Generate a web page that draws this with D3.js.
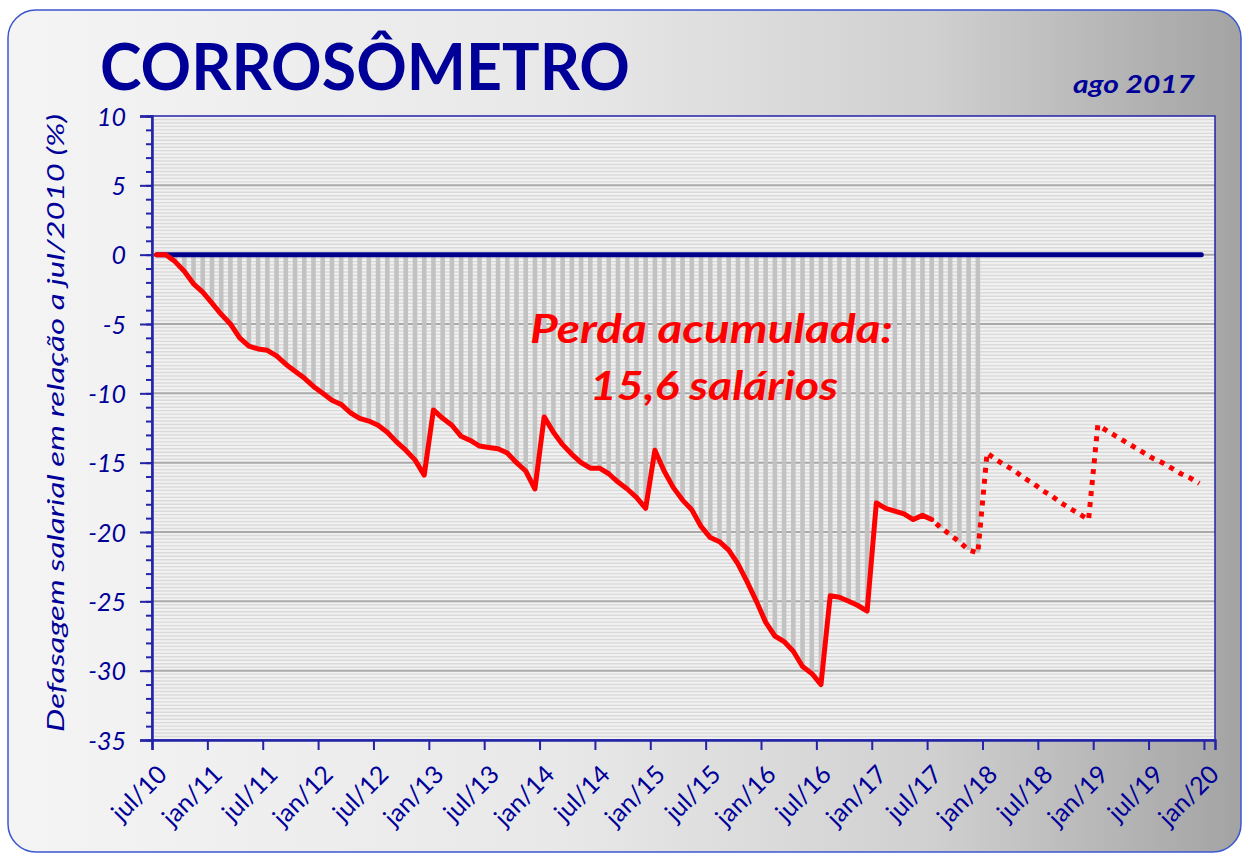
<!DOCTYPE html>
<html lang="pt">
<head>
<meta charset="utf-8">
<title>Corrosômetro</title>
<script src="https://d3js.org/d3.v7.min.js"></script>
<style>
  body { margin: 0; background: #fff; }
  svg text { font-family: Lato, "Open Sans", sans-serif; }
</style>
</head>
<body>
<svg id="chart"></svg>
<script>
// meses contados a partir de jul/2010 (0 = jul/10)
var tickLabels = ["jul/10","jan/11","jul/11","jan/12","jul/12","jan/13","jul/13","jan/14","jul/14","jan/15",
  "jul/15","jan/16","jul/16","jan/17","jul/17","jan/18","jul/18","jan/19","jul/19","jan/20"];

// defasagem salarial (%) mês a mês, jul/10 .. dez/19
var defasagem = [
  0, 0, -0.5, -1.2, -2.1, -2.7, -3.5, -4.3, -5.0, -6.0,
  -6.6, -6.8, -6.9, -7.3, -7.9, -8.4, -8.9, -9.5, -10.0, -10.5,
  -10.8, -11.4, -11.8, -12.0, -12.3, -12.8, -13.5, -14.1, -14.8, -15.9,
  -11.2, -11.8, -12.3, -13.1, -13.4, -13.8, -13.9, -14.0, -14.3, -15.0,
  -15.6, -16.9, -11.7, -12.8, -13.7, -14.4, -15.0, -15.4, -15.4, -15.8,
  -16.4, -16.9, -17.5, -18.3, -14.1, -15.6, -16.8, -17.7, -18.4, -19.6,
  -20.4, -20.7, -21.3, -22.3, -23.6, -25.0, -26.5, -27.5, -27.9, -28.6,
  -29.7, -30.2, -31.0, -24.6, -24.7, -25.0, -25.3, -25.7, -17.9, -18.3,
  -18.5, -18.7, -19.1, -18.8, -19.1, -19.7, -20.2, -20.7, -21.3, -21.5,
  -14.3, -14.8, -15.2, -15.6, -16.1, -16.5, -17.0, -17.4, -17.9, -18.3,
  -18.7, -19.1, -12.3, -12.7, -13.1, -13.5, -13.9, -14.3, -14.7, -15.0,
  -15.4, -15.8, -16.1, -16.5
];
var ultimoReal = 84;   // jul/17: depois disso, projeção (pontilhado)
var ultimaBarra = 89;  // dez/17: fim da área de perda acumulada

var yTicks = [-35,-30,-25,-20,-15,-10,-5,0,5,10];

var width = 1245, height = 853;
var plot = {left:152, right:1215, top:116, bottom:740};
var navy = "#000099", axisBlue = "#2323a8";

var svg = d3.select("#chart").attr("width",width).attr("height",height);
var defs = svg.append("defs");

var grad = defs.append("linearGradient").attr("id","bg").attr("x1","0").attr("x2","1").attr("y1","0").attr("y2","0");
grad.append("stop").attr("offset","0%").attr("stop-color","#f4f4f4");
grad.append("stop").attr("offset","45%").attr("stop-color","#e8e8e8");
grad.append("stop").attr("offset","75%").attr("stop-color","#d0d0d0");
grad.append("stop").attr("offset","100%").attr("stop-color","#a3a3a3");

svg.append("rect")
  .attr("x",8).attr("y",10).attr("width",1233).attr("height",842)
  .attr("rx",28)
  .attr("fill","url(#bg)")
  .attr("stroke","#3b57d0").attr("stroke-width",1.5);

// escalas: mês 0 = jul/10 no eixo; pontos no meio do mês
var xScale = d3.scaleLinear().domain([0,115.2]).range([plot.left,plot.right]);
var yScale = d3.scaleLinear().domain([-35,10]).range([plot.bottom,plot.top]);
var xm = function(i){ return xScale(i+0.5); };

// fundo da área do gráfico
svg.append("rect")
  .attr("x",plot.left).attr("y",plot.top)
  .attr("width",plot.right-plot.left).attr("height",plot.bottom-plot.top)
  .attr("fill","#f1f1f1");

// listras (grade secundária a cada 0,25)
svg.append("g")
  .selectAll("line")
  .data(d3.range(-35,10,0.25).filter(function(v){ return v % 5 !== 0; }))
  .enter().append("line")
  .attr("x1",plot.left).attr("x2",plot.right)
  .attr("y1",function(d){ return yScale(d); }).attr("y2",function(d){ return yScale(d); })
  .attr("stroke","#dadada").attr("stroke-width",1.4);

// grade principal
svg.append("g")
  .selectAll("line")
  .data(yTicks.filter(function(v){ return v > -35 && v < 10; }))
  .enter().append("line")
  .attr("x1",plot.left).attr("x2",plot.right)
  .attr("y1",function(d){ return yScale(d); }).attr("y2",function(d){ return yScale(d); })
  .attr("stroke","#a9a9a9").attr("stroke-width",2);

// barras da perda acumulada
svg.append("g")
  .selectAll("rect")
  .data(defasagem.slice(0,ultimaBarra+1))
  .enter().append("rect")
  .attr("x",function(d,i){ return xm(i)-2.3; })
  .attr("width",4.6)
  .attr("y",yScale(0))
  .attr("height",function(d){ return yScale(d)-yScale(0); })
  .attr("fill","#c2c2c2");

// linha de referência zero
svg.append("line")
  .attr("x1",xm(0)).attr("x2",xm(defasagem.length-1)+2)
  .attr("y1",yScale(0)).attr("y2",yScale(0))
  .attr("stroke","#00008c").attr("stroke-width",5).attr("stroke-linecap","round");

var line = d3.line()
  .x(function(d){ return xm(d.i); })
  .y(function(d){ return yScale(d.v); });
var pts = defasagem.map(function(v,i){ return {i:i, v:v}; });

svg.append("path")
  .datum(pts.slice(0,ultimoReal+1))
  .attr("d",line)
  .attr("fill","none").attr("stroke","#ff0000").attr("stroke-width",5)
  .attr("stroke-linejoin","round").attr("stroke-linecap","round");

svg.append("path")
  .datum(pts.slice(ultimoReal))
  .attr("d",line)
  .attr("fill","none").attr("stroke","#ff0000").attr("stroke-width",5)
  .attr("stroke-dasharray","5 6").attr("stroke-dashoffset",-6);

// moldura da área do gráfico
svg.append("rect")
  .attr("x",plot.left).attr("y",plot.top)
  .attr("width",plot.right-plot.left).attr("height",plot.bottom-plot.top)
  .attr("fill","none").attr("stroke",axisBlue).attr("stroke-width",1.5);

// eixo y
var yAxis = d3.axisLeft(yScale).tickValues(yTicks).tickSize(12).tickPadding(14)
  .tickFormat(function(d){ return String(d); });
var yMinor = d3.axisLeft(yScale).tickValues(d3.range(-35,11,1)).tickSize(6).tickFormat("");

var gy = svg.append("g").attr("transform","translate("+plot.left+",0)").call(yAxis);
svg.append("g").attr("transform","translate("+plot.left+",0)").call(yMinor)
  .call(function(g){ g.select(".domain").remove(); });
svg.selectAll(".tick line").attr("stroke",axisBlue).attr("stroke-width",2);
gy.select(".domain").attr("stroke",axisBlue).attr("stroke-width",2.5);
gy.selectAll("text")
  .attr("fill",navy).attr("font-size",25).attr("font-style","italic").attr("dy","0.36em");

// eixo x
var xAxis = d3.axisBottom(xScale)
  .tickValues(d3.range(0,115,6))
  .tickSize(10)
  .tickFormat(function(d,i){ return tickLabels[i]; });
var gx = svg.append("g").attr("transform","translate(0,"+plot.bottom+")").call(xAxis);
gx.select(".domain").attr("stroke",axisBlue).attr("stroke-width",2.5);
gx.selectAll(".tick line").attr("stroke",axisBlue).attr("stroke-width",2);
gx.selectAll("text")
  .attr("fill",navy).attr("font-size",25)
  .attr("text-anchor","end")
  .attr("dy",0).attr("y",0)
  .attr("transform","translate(16,36) rotate(-45)");

// títulos
svg.append("text")
  .attr("x",100).attr("y",90)
  .attr("font-size",65).attr("font-weight","bold").attr("fill",navy)
  .attr("textLength",530).attr("lengthAdjust","spacingAndGlyphs")
  .text("CORROSÔMETRO");

svg.append("text")
  .attr("x",1073).attr("y",93)
  .attr("font-size",25).attr("font-weight","bold").attr("font-style","italic").attr("fill",navy)
  .attr("textLength",122).attr("lengthAdjust","spacingAndGlyphs")
  .text("ago 2017");

svg.append("text")
  .attr("transform","translate(64,423) rotate(-90)")
  .attr("text-anchor","middle")
  .attr("font-size",24).attr("font-style","italic").attr("fill",navy)
  .attr("textLength",618).attr("lengthAdjust","spacingAndGlyphs")
  .text("Defasagem salarial em relação a jul/2010 (%)");

svg.append("text")
  .attr("x",530).attr("y",343)
  .attr("font-size",40).attr("font-weight","bold").attr("font-style","italic").attr("fill","#ff0000")
  .attr("textLength",363).attr("lengthAdjust","spacingAndGlyphs")
  .text("Perda acumulada:");
svg.append("text")
  .attr("x",590).attr("y",400)
  .attr("font-size",40).attr("font-weight","bold").attr("font-style","italic").attr("fill","#ff0000")
  .attr("textLength",248).attr("lengthAdjust","spacingAndGlyphs")
  .text("15,6 salários");
</script>
</body>
</html>
